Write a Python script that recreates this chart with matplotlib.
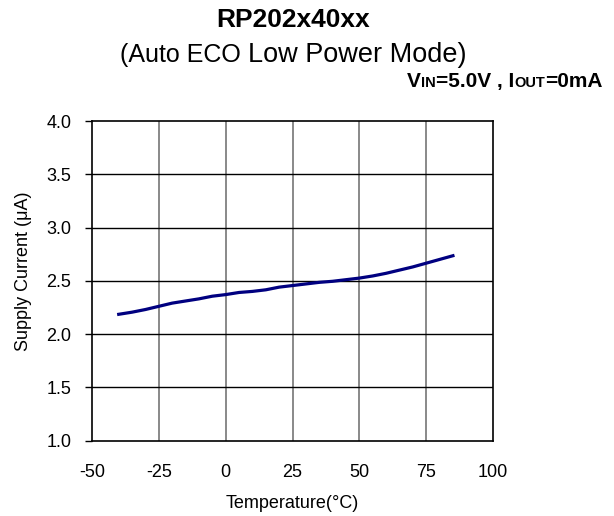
import matplotlib
matplotlib.use("Agg")
import matplotlib.pyplot as plt
from matplotlib.offsetbox import TextArea, HPacker, AnchoredOffsetbox

plt.rcParams['font.family'] = ['Liberation Sans', 'DejaVu Sans']

temps = [-40, -35, -30, -25, -20, -15, -10, -5, 0, 5, 10, 15, 20, 25, 30, 35, 40,
         45, 50, 55, 60, 65, 70, 75, 80, 85]
current = [2.185, 2.205, 2.23, 2.26, 2.29, 2.31, 2.33, 2.355, 2.37, 2.39, 2.40, 2.415,
           2.44, 2.455, 2.47, 2.485, 2.495, 2.51, 2.525, 2.545, 2.57, 2.60, 2.63,
           2.665, 2.70, 2.735]
xticks = [-50, -25, 0, 25, 50, 75, 100]
yticks = [1.0, 1.5, 2.0, 2.5, 3.0, 3.5, 4.0]

fig = plt.figure(figsize=(6.14, 5.16), dpi=100)
ax = fig.add_axes([0.1498, 0.1463, 0.6532, 0.6192])

for x in xticks[1:-1]:
    ax.axvline(x, color='#808080', lw=1.3, zorder=1)
for y in yticks[1:-1]:
    ax.axhline(y, color='black', lw=1.0, zorder=1)

ax.plot(temps, current, color='#000080', lw=2.3, zorder=3)

ax.set_xlim(-50, 100)
ax.set_ylim(1.0, 4.0)
ax.set_xticks(xticks)
ax.set_yticks(yticks)
ax.set_xticklabels([str(v) for v in xticks])
ax.set_yticklabels([f"{v:.1f}" for v in yticks])
ax.tick_params(axis='x', length=0, pad=17, labelsize=13)
ax.tick_params(axis='y', length=5, width=1, direction='out', pad=10, labelsize=13)
for s in ax.spines.values():
    s.set_linewidth(1.2)
    s.set_color('black')

ax.set_xlabel('Temperature(°C)', fontsize=13, labelpad=10)
ax.set_ylabel('Supply Current (μA)', fontsize=13)
ax.yaxis.set_label_coords(-0.15, 0.53)

fig.text(0.477, 0.948, 'RP202x40xx', ha='center', va='baseline', fontsize=19, fontweight='bold')

sub = HPacker(children=[TextArea('(Auto ECO ', textprops=dict(fontsize=18)),
                        TextArea('Low Power Mode)', textprops=dict(fontsize=19.5))],
              align='baseline', pad=0, sep=0)
fig.add_artist(AnchoredOffsetbox(loc='center', child=sub, frameon=False,
                                 bbox_to_anchor=(0.478, 0.894), bbox_transform=fig.transFigure,
                                 borderpad=0, pad=0))

big = dict(fontsize=15, fontweight='bold', color='black')
small = dict(fontsize=10.5, fontweight='bold', color='black')
parts = [TextArea('V', textprops=big), TextArea('IN', textprops=small),
         TextArea('=5.0V , I', textprops=big), TextArea('OUT', textprops=small),
         TextArea('=0mA', textprops=big)]
box = HPacker(children=parts, align='baseline', pad=0, sep=0)
fig.add_artist(AnchoredOffsetbox(loc='center right', child=box, frameon=False,
                                 bbox_to_anchor=(0.981, 0.842), bbox_transform=fig.transFigure,
                                 borderpad=0, pad=0))

fig.savefig('out.png', dpi=100)
